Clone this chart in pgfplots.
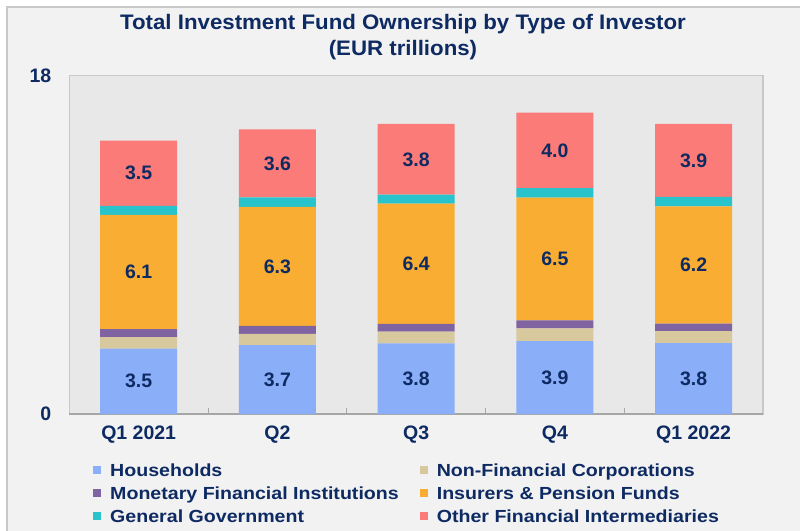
\documentclass[border=0pt]{standalone}
\usepackage{pgfplots}
\pgfplotsset{compat=1.18}
\usepackage{pgfplotstable}
\usepackage{fontspec}
\setmainfont{Liberation Sans}
\newfontfamily\titlefam[FakeStretch=1.06]{Liberation Sans}
\newfontfamily\legfam[FakeStretch=1.12]{Liberation Sans}
\newcommand\tfont{\titlefam\bfseries\fontsize{21pt}{26pt}\selectfont}
\newcommand\lblfont{\bfseries\fontsize{19.5pt}{23pt}\selectfont}
\newcommand\gfont{\legfam\bfseries\fontsize{17.5pt}{23pt}\selectfont}
\definecolor{hh}{HTML}{8AAEF8}
\definecolor{nfc}{HTML}{D8C89E}
\definecolor{mfi}{HTML}{8064A2}
\definecolor{ipf}{HTML}{F9AD33}
\definecolor{gg}{HTML}{29C3CC}
\definecolor{ofi}{HTML}{FA7B78}
\definecolor{navy}{HTML}{0E2A62}
\definecolor{plotbg}{HTML}{E8E8E8}
\definecolor{panel}{HTML}{F2F2F2}
\definecolor{boxgray}{HTML}{C8C8C8}
\definecolor{axgray}{HTML}{A6A6A6}
\pgfplotsset{/pgf/number format/assume math mode=true}
\pgfplotstableread{
x h nfc mfi ipf gg ofi z tot
0 3.48 0.61 0.43 6.07 0.49 3.46 0 14.5
1 3.67 0.59 0.43 6.33 0.50 3.63 0 15.2
2 3.76 0.62 0.41 6.40 0.48 3.76 0 15.4
3 3.88 0.67 0.43 6.53 0.51 4.01 0 16.0
4 3.77 0.64 0.40 6.24 0.50 3.88 0 15.4
}\data
\begin{document}
\begin{tikzpicture}
\path[use as bounding box, fill=white] (0pt,0pt) rectangle (800pt,530pt);
\draw[fill=panel, draw=boxgray, line width=1.5pt] (7pt,-10pt) rectangle (810pt,523pt);
\begin{axis}[
  at={(69.3pt,116pt)}, anchor=south west,
  scale only axis, width=693.7pt, height=338.3pt,
  ybar stacked, bar width=77pt,
  xmin=-0.5, xmax=4.5, ymin=0, ymax=18,
  enlarge x limits=false, enlarge y limits=false,
  axis background/.style={fill=plotbg, draw=boxgray, line width=1.2pt},
  axis x line*=bottom, axis y line*=left,
  x axis line style={draw=axgray, line width=1.2pt},
  y axis line style={draw=none},
  xtick={0,1,2,3,4}, xticklabels={Q1 2021,Q2,Q3,Q4,Q1 2022},
  minor xtick={0.5,1.5,2.5,3.5},
  major tick length=0pt, minor tick length=6pt,
  tick align=inside,
  minor tick style={draw=axgray, line width=1pt},
  ytick={0,18},
  ticklabel style={font=\lblfont, text=navy},
  yticklabel style={xshift=-14.5pt},
  xticklabel style={yshift=-8pt},
  title={Total Investment Fund Ownership by Type of Investor\\(EUR trillions)},
  title style={font=\tfont, text=navy, align=center, at={(0.481,1.095)}, anchor=center},
  legend columns=2,
  legend image code/.code={\fill[#1] (0pt,-4pt) rectangle (8pt,4pt);},
  legend style={draw=none, fill=none, inner sep=0pt, at={(0.0342,-0.1324)}, anchor=north west,
    font=\gfont, text=navy, cells={anchor=west},
    nodes={inner xsep=0pt, inner ysep=5.5pt, text height=12pt, text depth=0pt},
    /tikz/column 1/.style={column sep=9pt},
    /tikz/column 2/.style={column sep=21pt},
    /tikz/column 3/.style={column sep=9pt}},
  nodes near coords style={font=\lblfont, text=navy},
]
\addplot[fill=hh, draw=none,
  nodes near coords={\pgfmathprintnumber[fixed,fixed zerofill,precision=1]{\pgfplotspointmeta}},
  point meta=\thisrow{h},
  every node near coord/.append style={anchor=center}]
  table[x=x,y=h]{\data};
\addlegendentry{Households}
\addplot[fill=nfc, draw=none] table[x=x,y=nfc]{\data};
\addlegendentry{Non-Financial Corporations}
\addplot[fill=mfi, draw=none] table[x=x,y=mfi]{\data};
\addlegendentry{Monetary Financial Institutions}
\addplot[fill=ipf, draw=none,
  nodes near coords={\pgfmathprintnumber[fixed,fixed zerofill,precision=1]{\pgfplotspointmeta}},
  point meta=\thisrow{ipf},
  every node near coord/.append style={anchor=center}]
  table[x=x,y=ipf]{\data};
\addlegendentry{Insurers \& Pension Funds}
\addplot[fill=gg, draw=none] table[x=x,y=gg]{\data};
\addlegendentry{General Government}
\addplot[fill=ofi, draw=none,
  nodes near coords={\pgfmathprintnumber[fixed,fixed zerofill,precision=1]{\pgfplotspointmeta}},
  point meta=\thisrow{ofi},
  every node near coord/.append style={anchor=center}]
  table[x=x,y=ofi]{\data};
\addlegendentry{Other Financial Intermediaries}
\addplot[draw=none, fill=none, forget plot,
  nodes near coords={\pgfplotspointmeta}, point meta=explicit symbolic,
  every node near coord/.append style={anchor=south}]
  table[x=x,y=z,meta=tot]{\data};
\end{axis}
\end{tikzpicture}
\end{document}
